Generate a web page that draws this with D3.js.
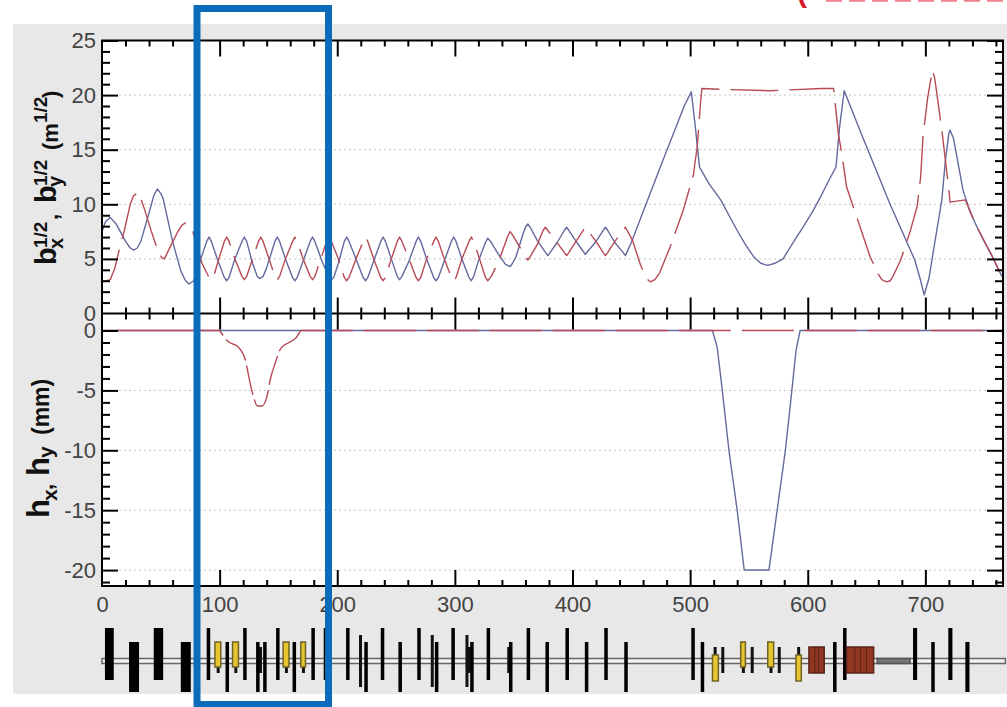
<!DOCTYPE html>
<html>
<head>
<meta charset="utf-8">
<script src="https://cdn.jsdelivr.net/npm/d3@7"></script>
<style>
    html, body { margin: 0; padding: 0; background: #fff; }
    svg { display: block; font-family: "Liberation Sans", sans-serif; }
    .tick-label text { fill: #444; font-size: 22px; }
</style>
</head>
<body>
<script>

// Betatron functions, [s, value]
const betaBlue = [[0,7.5],[3,8.4],[7,8.8],[12,8.2],[20,6.6],[24,6],[27,5.8],[30,6],[33,6.6],[40,9.2],[44,10.8],[47,11.4],[50,11],[52,10.5],[60,6.6],[67,3.9],[71,3],[74,2.7],[78,3],[84,5],[89,6.6],[91,7],[93,6.6],[98,5],[104,3.3],[106,3],[108,3.3],[113,5],[119,6.6],[121,7],[123,6.6],[128,4.6],[132,3.4],[134,3.2],[137,3.4],[140,4.2],[147,6.6],[149,7],[151,6.6],[156,5],[162,3.3],[164,3],[166,3.3],[171,4.8],[177,6.6],[179,7],[181,6.6],[187,4.8],[193,3.3],[195,3.1],[197,3.3],[201,4.6],[206,6.6],[208,7],[210,6.6],[216,5],[222,3.3],[224,3],[226,3.3],[231,4.8],[237,6.6],[239,7],[241,6.6],[246,5],[251,3.4],[253,3.1],[255,3.4],[261,4.8],[267,6.6],[269,7],[271,6.6],[276,5],[282,3.3],[284,3],[286,3.3],[291,4.8],[297,6.6],[299,7],[301,6.6],[306,5],[312,3.3],[314,3],[316,3.4],[320,4.8],[326,6.5],[328,6.9],[331,6.5],[336,5.6],[343,4.5],[347,4.3],[349,4.6],[352,5.2],[358,7.3],[360,7.9],[362,8.2],[364,7.9],[370,6.7],[377,5.6],[379,5.3],[381,5.6],[387,6.5],[393,7.6],[395,7.9],[397,7.6],[403,6.6],[409,5.7],[411,5.4],[413,5.7],[420,6.6],[426,7.6],[428,7.9],[430,7.6],[436,6.5],[443,5.6],[445,5.3],[450,6.5],[475,13.5],[495,19],[501,20.3],[504,17.5],[508,13.4],[516,11.9],[526,10.4],[533,9],[540,7.6],[547,6.3],[554,5.2],[560,4.6],[566,4.4],[572,4.6],[579,5],[587,6.4],[596,7.9],[604,9.3],[611,10.7],[618,12.2],[624,13.4],[627,17],[631,20.4],[645,16.6],[670,10],[691,4.9],[696,3],[699,1.7],[703,3.2],[708,6.5],[714,10.4],[717,14],[720,16.5],[721,16.8],[724,16],[732,11.3],[738,9.3],[744,7.9],[750,6.6],[757,5.2],[765,3.4]];
const betaRed = [[0,2.9],[7,3.1],[11,4.2],[15,6],[19,7.6],[24,10],[27,10.8],[31,11.1],[36,9.6],[42,7.5],[48,5.6],[51,5.1],[53,5],[58,6.1],[64,7.4],[68,8.1],[71,8.3],[74,8.1],[77,7.6],[85,4.6],[91,3.3],[93,3.1],[95,3.4],[99,4.9],[104,6.6],[106,7],[108,6.6],[113,5],[119,3.4],[121,3.1],[123,3.4],[128,5],[133,6.6],[135,7],[137,6.6],[142,5],[147,3.4],[149,3.1],[151,3.4],[156,5],[162,6.6],[164,7],[166,6.6],[171,5],[177,3.4],[179,3.1],[181,3.4],[186,5],[191,6.6],[193,7],[195,6.6],[201,5],[206,3.3],[208,3],[210,3.3],[216,5],[222,6.6],[224,7],[226,6.6],[231,5],[237,3.3],[239,3],[241,3.3],[246,5],[251,6.6],[253,7],[255,6.6],[261,5],[267,3.3],[269,3],[271,3.3],[276,5],[282,6.6],[284,7],[286,6.6],[291,5],[297,3.3],[299,3],[301,3.3],[306,5],[312,6.6],[314,7],[316,6.6],[321,5],[326,3.3],[328,3],[331,3.4],[338,5],[345,7.1],[347,7.5],[349,7.2],[354,6.3],[360,5.2],[362,4.9],[364,5.2],[370,6.3],[375,7.6],[377,7.9],[379,7.6],[386,6.6],[393,5.6],[395,5.3],[397,5.6],[403,6.6],[409,7.6],[411,7.9],[413,7.6],[420,6.6],[426,5.6],[428,5.3],[430,5.6],[436,6.6],[443,7.6],[445,7.9],[451,6.7],[458,4.4],[463,3.2],[466,2.9],[470,3.1],[474,3.7],[483,6.1],[489,7.9],[494,9.4],[503,12.8],[504,13.7],[506,15.2],[509,19.5],[510,20.6],[534,20.5],[568,20.4],[612,20.6],[622,20.6],[626,16.5],[629,14.6],[633,11.6],[653,5.2],[660,3.6],[663,3.1],[667,2.9],[670,3],[672,3.3],[679,4.9],[687,7.5],[693,9.8],[696,12.5],[698,16.2],[702,19.8],[706,22.3],[708,21.5],[714,16.8],[720,11.3],[721,10.2],[734,10.4],[744,7.9],[757,5.2],[765,3.4]];

// Dispersion, [s, value]
const etaBlue = [[0,0],[519,0],[523,-1.4],[527,-4.7],[533,-10],[540,-15],[546,-20],[567,-20],[574,-15],[581,-10],[586.5,-5],[590,-1.7],[593.5,0],[766,0]];
const etaRedStart = [[0,0],[100,0]];
const etaRedDip = [[100,0],[107,-0.9],[116,-1.4],[122,-2.5],[125.5,-4.2],[129,-5.6],[132,-6.3],[136,-6.3],[140,-5.6],[143.5,-3.9],[147,-2.8],[152,-1.5],[159,-1],[165,-0.6],[169,0]];
const etaRedEnd = [[169,0],[766,0]];

// Tick values and labels
const xMajor = [100, 200, 300, 400, 500, 600, 700];
const xMinor = [20, 40, 60, 80, 120, 140, 160, 180, 220, 240, 260, 280, 320, 340, 360, 380, 420, 440, 460, 480, 520, 540, 560, 580, 620, 640, 660, 680, 720, 740, 760];
const xLabels = [0, 100, 200, 300, 400, 500, 600, 700];
const betaMajor = [5, 10, 15, 20, 25];
const betaMinor = d3.range(1, 25).filter(v => v % 5 != 0);
const betaLabels = [0, 5, 10, 15, 20, 25];
const etaMajor = [0, -5, -10, -15, -20];
const etaMinor = d3.range(-21, 1).filter(v => v % 5 != 0);
const etaGrid = [-5, -10, -15, -20];

// Lattice elements, [s start, length]
const quadsUpper = [[2.5,7.5],[44,8],[89,3],[120,3],[148,2.5],[178,2.5],[188.5,1.5],[207.5,3],[237,3],[268,3],[297,3],[327,2],[361,3],[394,3],[427,3],[501,1.5],[630,2],[689.5,3.5],[719.5,3.5]];
const quadsLower = [[23,8.5],[67,8.5],[105,3],[131,3],[137,2.5],[162,3],[223,2],[252,3],[283,3],[313,3],[346,2.5],[377,3],[410.5,2],[444,3],[509,2],[621.5,3],[705,2],[734,3.5]];
const quadsSlim = [[218.5,1.5],[279.5,1.5],[309,1.5]];
const quadsShort = [[97.5,2],[112.5,2],[133.5,2.5],[155.5,2],[170,2],[311,2],[344.5,2],[520,1.5],[526.5,2],[544,2],[551.5,2],[567.5,2],[574.5,2],[591,2]];
const bendsUpper = [[96,5],[111,5],[154,5],[169,4],[543,4],[566,5]];
const bendsLower = [[519,5],[590,4.5]];
const dipoles = [[601,13],[633,23]];
const dipoleSlices = [606, 609, 640, 645, 650];
const correctors = [[659,28]];

// Axis titles, text of each piece
const titleBeta = ["b", "x", "1/2", ",", "b", "y", "1/2", "(m", "1/2", ")"];
const titleEta = ["h", "x", ",", "h", "y", "(mm)"];

// Picture size
const width = 1007;
const height = 707;

// Panel edges in px
const plotLeft = 102;
const plotRight = 1003;
const plotTop = 40.5;
const plotMiddle = 313.5;
const plotBottom = 586;

// Scales
const x = d3.scaleLinear().domain([0, 766]).range([plotLeft, plotRight]);
const yBeta = d3.scaleLinear().domain([0, 25]).range([plotMiddle, plotTop]);
const yEta = d3.scaleLinear().domain([-21.33, 1.42]).range([plotBottom, plotMiddle]);

const svg = d3.select("body").append("svg")
    .attr("width", width)
    .attr("height", height)
    .attr("viewBox", [0, 0, width, height]);

// Cut off bottom of the slide heading
svg.append("text")
    .attr("x", 797)
    .attr("y", 2)
    .attr("fill", "#d8172b")
    .attr("font-weight", "bold")
    .attr("font-size", 30)
    .text("(");
svg.append("line")
    .attr("x1", 826).attr("x2", 1007)
    .attr("y1", 0.5).attr("y2", 0.5)
    .attr("stroke", "#f27f8c")
    .attr("stroke-width", 2.5)
    .attr("stroke-dasharray", "16 7");

// Grey slide panel and white plot area
svg.append("rect")
    .attr("x", 13).attr("y", 24)
    .attr("width", 994).attr("height", 670)
    .attr("fill", "#e8e8e8");
svg.append("rect")
    .attr("x", plotLeft).attr("y", plotTop)
    .attr("width", plotRight - plotLeft).attr("height", plotBottom - plotTop)
    .attr("fill", "#fff");

// Dotted horizontal grid lines
function addGrid(values, scale) {
    svg.append("g")
        .selectAll("line")
        .data(values)
        .enter()
        .append("line")
        .attr("x1", plotLeft + 17)
        .attr("x2", plotRight - 17)
        .attr("y1", d => scale(d))
        .attr("y2", d => scale(d))
        .attr("stroke", "#c4c4c4")
        .attr("stroke-dasharray", "2 3");
}
addGrid([5, 10, 15, 20], yBeta);
addGrid(etaGrid, yEta);

// Curves, blue first so the red dashes sit on top
const lineBeta = d3.line().x(d => x(d[0])).y(d => yBeta(d[1]));
const lineEta = d3.line().x(d => x(d[0])).y(d => yEta(d[1]));
const lineDip = d3.line().curve(d3.curveMonotoneX).x(d => x(d[0])).y(d => yEta(d[1]));
const blue = "#646a9e";
const red = "#b64a55";

function addCurve(points, line, color, dash, offset) {
    svg.append("path")
        .attr("d", line(points))
        .attr("fill", "none")
        .attr("stroke", color)
        .attr("stroke-width", 1.4)
        .attr("stroke-linejoin", "round")
        .attr("stroke-dasharray", dash)
        .attr("stroke-dashoffset", offset);
}
addCurve(betaBlue, lineBeta, blue, null, 0);
addCurve(betaRed, lineBeta, red, "48 11", 8);
addCurve(etaBlue, lineEta, blue, null, 0);
addCurve(etaRedStart, lineEta, red, null, 0);
addCurve(etaRedDip, lineDip, red, "30 5", 24);
addCurve(etaRedEnd, lineEta, red, "52 11", 0);

// Ticks only, the frame is a separate rect
function addTicks(axis, values, size, tx, ty, strokeWidth) {
    svg.append("g")
        .attr("transform", `translate(${tx}, ${ty})`)
        .call(axis.tickValues(values).tickSize(size).tickFormat(""))
        .call(g => g.select(".domain").remove())
        .call(g => g.selectAll(".tick line").attr("stroke", "#000").attr("stroke-width", strokeWidth));
}

// x ticks: top edge, shared middle edge (both ways), bottom edge
addTicks(d3.axisBottom(x), xMajor, 16, 0, plotTop, 2);
addTicks(d3.axisBottom(x), xMinor, 6, 0, plotTop, 2);
addTicks(d3.axisTop(x), xMajor, 16, 0, plotMiddle, 2);
addTicks(d3.axisBottom(x), xMajor, 16, 0, plotMiddle, 2);
addTicks(d3.axisTop(x), xMinor, 6, 0, plotMiddle, 2);
addTicks(d3.axisBottom(x), xMinor, 6, 0, plotMiddle, 2);
addTicks(d3.axisTop(x), xMajor, 16, 0, plotBottom, 2);
addTicks(d3.axisTop(x), xMinor, 6, 0, plotBottom, 2);

// y ticks on both sides of each panel
[[yBeta, betaMajor, betaMinor], [yEta, etaMajor, etaMinor]].forEach(item => {
    addTicks(d3.axisRight(item[0]), item[1], 16, plotLeft, 0, 2);
    addTicks(d3.axisRight(item[0]), item[2], 8, plotLeft, 0, 2);
    addTicks(d3.axisLeft(item[0]), item[1], 16, plotRight, 0, 2);
    addTicks(d3.axisLeft(item[0]), item[2], 8, plotRight, 0, 2);
});

// Frame and the line between panels
svg.append("rect")
    .attr("x", plotLeft).attr("y", plotTop)
    .attr("width", plotRight - plotLeft).attr("height", plotBottom - plotTop)
    .attr("fill", "none")
    .attr("stroke", "#000")
    .attr("stroke-width", 2);
svg.append("line")
    .attr("x1", plotLeft).attr("x2", plotRight)
    .attr("y1", plotMiddle).attr("y2", plotMiddle)
    .attr("stroke", "#000")
    .attr("stroke-width", 2);

// Tick labels
svg.append("g")
    .attr("class", "tick-label")
    .attr("transform", `translate(0, ${plotBottom})`)
    .call(d3.axisBottom(x).tickValues(xLabels).tickSize(0).tickPadding(10))
    .call(g => g.select(".domain").remove());
svg.append("g")
    .attr("class", "tick-label")
    .attr("transform", `translate(${plotLeft}, 0)`)
    .call(d3.axisLeft(yBeta).tickValues(betaLabels).tickSize(0).tickPadding(6))
    .call(g => g.select(".domain").remove());
svg.append("g")
    .attr("class", "tick-label")
    .attr("transform", `translate(${plotLeft}, 0)`)
    .call(d3.axisLeft(yEta).tickValues(etaMajor).tickSize(0).tickPadding(6).tickFormat(d => String(d)))
    .call(g => g.select(".domain").remove());

// Rotated axis titles, each piece placed by hand for the sub/superscripts
function addTitle(pieces, places) {
    svg.append("g")
        .selectAll("text")
        .data(pieces)
        .enter()
        .append("text")
        .attr("transform", (d, i) => `translate(${places[i][0]}, ${places[i][1]}) rotate(-90)`)
        .attr("font-size", (d, i) => places[i][2])
        .attr("font-weight", "bold")
        .attr("fill", "#111")
        .text(d => d);
}
addTitle(titleBeta, [[56,265,29],[63,249,20],[47,248,19],[58,220,22],[56,203,29],[62,187,20],[47,186,19],[58,150,22],[47,123,19],[58,98,22]]);
addTitle(titleEta, [[49,518,31],[57,501,21],[53,490,22],[49,476,31],[53,458,21],[49,435,23]]);

// Lattice strip: vertical extents of each element family
const quadUpperTop = 628, quadUpperBottom = 680;
const quadLowerTop = 642, quadLowerBottom = 692;
const quadSlimTop = 635, quadSlimBottom = 687;
const quadShortTop = 647, quadShortBottom = 673;
const beamTop = 658.5, beamBottom = 663.5;
const lattice = svg.append("g");

function addElements(items, top, bottom, fill, stroke, minWidth) {
    lattice.append("g")
        .selectAll("rect")
        .data(items)
        .enter()
        .append("rect")
        .attr("x", d => x(d[0]))
        .attr("width", d => Math.max(x(d[0] + d[1]) - x(d[0]), minWidth))
        .attr("y", top)
        .attr("height", bottom - top)
        .attr("fill", fill)
        .attr("stroke", stroke)
        .attr("stroke-width", 1.5);
}

// Beam pipe band
addElements([[0, 768]], beamTop, beamBottom, "#f3f3f3", "#666", 1);
addElements(correctors, beamTop, beamBottom, "#777", "#555", 1);

// Quadrupoles
addElements(quadsShort, quadShortTop, quadShortBottom, "#111", "none", 3);
addElements(quadsUpper, quadUpperTop, quadUpperBottom, "#000", "none", 3.5);
addElements(quadsLower, quadLowerTop, quadLowerBottom, "#000", "none", 3.5);
addElements(quadsSlim, quadSlimTop, quadSlimBottom, "#111", "none", 3);

// Bends and dipoles
addElements(bendsUpper, 642, 667, "#e6c52e", "#6e6326", 1);
addElements(bendsLower, 655, 681, "#e6c52e", "#6e6326", 1);
addElements(dipoles, 647, 673, "#8f3722", "#5c2418", 1);
lattice.append("g")
    .selectAll("line")
    .data(dipoleSlices)
    .enter()
    .append("line")
    .attr("x1", d => x(d))
    .attr("x2", d => x(d))
    .attr("y1", 647)
    .attr("y2", 673)
    .attr("stroke", "#5c2418");

// Blue highlight box
svg.append("rect")
    .attr("x", 197).attr("y", 8.5)
    .attr("width", 131.5).attr("height", 696)
    .attr("fill", "none")
    .attr("stroke", "#0a6cbb")
    .attr("stroke-width", 7);

</script>
</body>
</html>
